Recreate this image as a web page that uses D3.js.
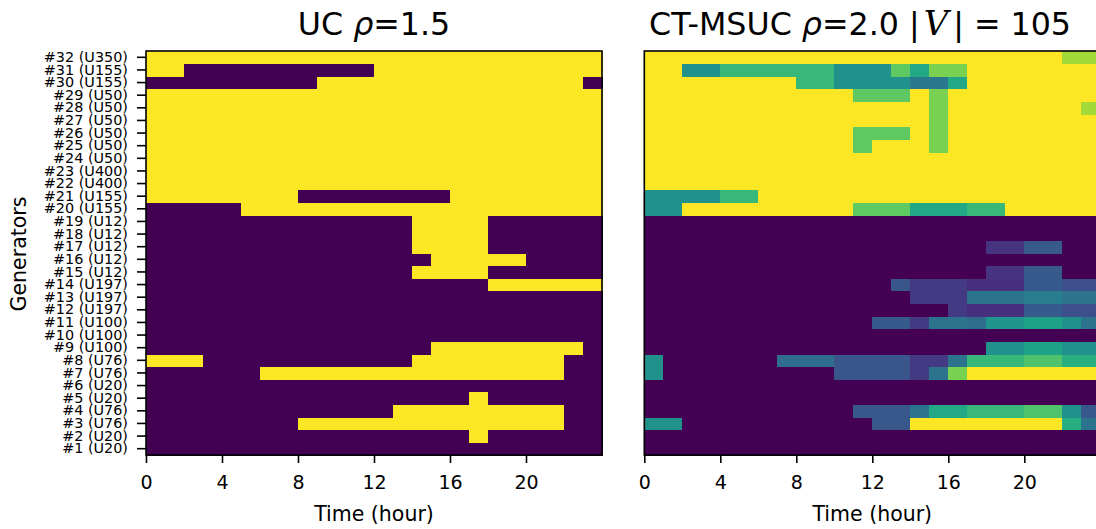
<!DOCTYPE html>
<html>
<head>
<meta charset="utf-8">
<script src="https://cdn.jsdelivr.net/npm/d3@7"></script>
<style>
  body { margin: 0; background: #fff; }
  svg { display: block; font-family: "DejaVu Sans", sans-serif; }
</style>
</head>
<body>
<svg id="chart" width="1096" height="529"></svg>
<script>
// generator labels, #1 .. #32
const genUnits = ['U20', 'U20', 'U76', 'U76', 'U20', 'U20', 'U76', 'U76', 'U100', 'U100',
  'U100', 'U197', 'U197', 'U197', 'U12', 'U12', 'U12', 'U12', 'U12', 'U155',
  'U155', 'U400', 'U400', 'U50', 'U50', 'U50', 'U50', 'U50', 'U50', 'U155',
  'U155', 'U350'];
const hourTicks = [0, 4, 8, 12, 16, 20];

// UC commitment, one string per generator (#1 first), one char per hour
const ucOn = [
  '000000000000000000000000',
  '000000000000000001000000',
  '000000001111111111111100',
  '000000000000011111111100',
  '000000000000000001000000',
  '000000000000000000000000',
  '000000111111111111111100',
  '111000000000001111111100',
  '000000000000000111111110',
  '000000000000000000000000',
  '000000000000000000000000',
  '000000000000000000000000',
  '000000000000000000000000',
  '000000000000000000111111',
  '000000000000001111000000',
  '000000000000000111110000',
  '000000000000001111000000',
  '000000000000001111000000',
  '000000000000001111000000',
  '000001111111111111111111',
  '111111110000000011111111',
  '111111111111111111111111',
  '111111111111111111111111',
  '111111111111111111111111',
  '111111111111111111111111',
  '111111111111111111111111',
  '111111111111111111111111',
  '111111111111111111111111',
  '111111111111111111111111',
  '000000000111111111111110',
  '110000000000111111111111',
  '111111111111111111111111',
];

// CT-MSUC commitment share, one array per generator (#1 first)
const ctOn = [
  [0,0,0,0,0,0,0,0,0,0,0,0,0,0,0,0,0,0,0,0,0,0,0,0],
  [0,0,0,0,0,0,0,0,0,0,0,0,0,0,0,0,0,0,0,0,0,0,0,0],
  [.5,.5,0,0,0,0,0,0,0,0,0,0,.27,.27,1,1,1,1,1,1,1,1,.63,.38],
  [0,0,0,0,0,0,0,0,0,0,0,.27,.27,.27,.38,.6,.6,.67,.67,.67,.72,.72,.5,.27],
  [0,0,0,0,0,0,0,0,0,0,0,0,0,0,0,0,0,0,0,0,0,0,0,0],
  [0,0,0,0,0,0,0,0,0,0,0,0,0,0,0,0,0,0,0,0,0,0,0,0],
  [.5,0,0,0,0,0,0,0,0,0,.26,.26,.26,.26,.17,.38,.8,1,1,1,1,1,1,1],
  [.5,0,0,0,0,0,0,.35,.35,.35,.26,.26,.26,.26,.17,.17,.38,.67,.67,.67,.72,.72,.63,.63],
  [0,0,0,0,0,0,0,0,0,0,0,0,0,0,0,0,0,0,.5,.5,.57,.57,.5,.5],
  [0,0,0,0,0,0,0,0,0,0,0,0,0,0,0,0,0,0,0,0,0,0,0,0],
  [0,0,0,0,0,0,0,0,0,0,0,0,.28,.28,.17,.38,.38,.35,.52,.52,.57,.57,.5,.38],
  [0,0,0,0,0,0,0,0,0,0,0,0,0,0,0,0,.17,.14,.14,.14,.28,.28,.24,.24],
  [0,0,0,0,0,0,0,0,0,0,0,0,0,0,.17,.17,.17,.38,.38,.38,.42,.42,.38,.38],
  [0,0,0,0,0,0,0,0,0,0,0,0,0,.26,.17,.17,.17,.14,.14,.14,.28,.28,.24,.24],
  [0,0,0,0,0,0,0,0,0,0,0,0,0,0,0,0,0,0,.15,.15,.28,.28,0,0],
  [0,0,0,0,0,0,0,0,0,0,0,0,0,0,0,0,0,0,0,0,0,0,0,0],
  [0,0,0,0,0,0,0,0,0,0,0,0,0,0,0,0,0,0,.15,.15,.28,.28,0,0],
  [0,0,0,0,0,0,0,0,0,0,0,0,0,0,0,0,0,0,0,0,0,0,0,0],
  [0,0,0,0,0,0,0,0,0,0,0,0,0,0,0,0,0,0,0,0,0,0,0,0],
  [.5,.5,1,1,1,1,1,1,1,1,1,.75,.75,.75,.6,.6,.6,.67,.67,1,1,1,1,1],
  [.5,.5,.5,.5,.67,.67,1,1,1,1,1,1,1,1,1,1,1,1,1,1,1,1,1,1],
  [1,1,1,1,1,1,1,1,1,1,1,1,1,1,1,1,1,1,1,1,1,1,1,1],
  [1,1,1,1,1,1,1,1,1,1,1,1,1,1,1,1,1,1,1,1,1,1,1,1],
  [1,1,1,1,1,1,1,1,1,1,1,1,1,1,1,1,1,1,1,1,1,1,1,1],
  [1,1,1,1,1,1,1,1,1,1,1,.75,1,1,1,.8,1,1,1,1,1,1,1,1],
  [1,1,1,1,1,1,1,1,1,1,1,.75,.75,.75,1,.8,1,1,1,1,1,1,1,1],
  [1,1,1,1,1,1,1,1,1,1,1,1,1,1,1,.8,1,1,1,1,1,1,1,1],
  [1,1,1,1,1,1,1,1,1,1,1,1,1,1,1,.8,1,1,1,1,1,1,1,.86],
  [1,1,1,1,1,1,1,1,1,1,1,.75,.75,.75,1,.8,1,1,1,1,1,1,1,1],
  [1,1,1,1,1,1,1,1,.67,.67,.5,.5,.5,.5,.4,.4,.6,1,1,1,1,1,1,1],
  [1,1,.5,.5,.67,.67,.67,.67,.67,.67,.5,.5,.5,.75,.6,.8,.8,1,1,1,1,1,1,1],
  [1,1,1,1,1,1,1,1,1,1,1,1,1,1,1,1,1,1,1,1,1,1,.86,.86],
];

const svg = d3.select('#chart');
const plotTop = 51;
const plotBottom = 455;

const genLabels = genUnits.map((u, i) => `#${i + 1} (${u})`);
const y = d3.scaleBand()
  .domain(genLabels.slice().reverse())
  .range([plotTop, plotBottom]);

const panels = [
  { left: 146, right: 602, values: ucOn.map((s) => s.split('').map(Number)), labels: true },
  { left: 644.3, right: 1100.3, values: ctOn, labels: false },
];

panels.forEach((p) => {
  const x = d3.scaleLinear().domain([0, 24]).range([p.left, p.right]);
  const g = svg.append('g');

  const cells = [];
  p.values.forEach((row, gi) => {
    row.forEach((v, h) => cells.push({ gen: genLabels[gi], h, v }));
  });

  g.selectAll('rect.cell')
    .data(cells)
    .enter()
    .append('rect')
    .attr('class', 'cell')
    .attr('x', (d) => x(d.h))
    .attr('y', (d) => y(d.gen))
    .attr('width', x(1) - x(0) + 0.6)
    .attr('height', y.bandwidth() + 0.6)
    .attr('shape-rendering', 'crispEdges')
    .attr('fill', (d) => d3.interpolateViridis(d.v));

  // frame
  g.append('rect')
    .attr('x', p.left)
    .attr('y', plotTop)
    .attr('width', p.right - p.left)
    .attr('height', plotBottom - plotTop)
    .attr('fill', 'none')
    .attr('stroke', '#000')
    .attr('stroke-width', 1.6);

  const xAxis = g.append('g')
    .attr('transform', `translate(0,${plotBottom})`)
    .call(d3.axisBottom(x).tickValues(hourTicks).tickFormat(d3.format('d'))
      .tickSize(8).tickPadding(13));
  xAxis.select('.domain').remove();
  xAxis.selectAll('line').attr('stroke-width', 1.6);
  xAxis.selectAll('text').attr('font-size', 19).attr('fill', '#000')
    .attr('font-family', '"DejaVu Sans", sans-serif');

  g.append('text')
    .attr('x', (p.left + p.right) / 2)
    .attr('y', 521)
    .attr('text-anchor', 'middle')
    .attr('font-size', 20.5)
    .text('Time (hour)');

  if (p.labels) {
    const yAxis = g.append('g')
      .attr('transform', `translate(${p.left},0)`)
      .call(d3.axisLeft(y).tickSize(9).tickPadding(9));
    yAxis.select('.domain').remove();
    yAxis.selectAll('line').attr('stroke-width', 1.6);
    yAxis.selectAll('text').attr('font-size', 14.4).attr('fill', '#000')
      .attr('font-family', '"DejaVu Sans", sans-serif');
  }
});

svg.append('text')
  .attr('transform', 'translate(26,254) rotate(-90)')
  .attr('text-anchor', 'middle')
  .attr('font-size', 20.5)
  .text('Generators');

// titles
const t1 = svg.append('text')
  .attr('x', 374).attr('y', 35)
  .attr('text-anchor', 'middle')
  .attr('font-size', 31.7);
t1.append('tspan').text('UC ');
t1.append('tspan').attr('font-style', 'italic').text('ρ');
t1.append('tspan').text('=1.5');

const t2 = svg.append('text')
  .attr('x', 860).attr('y', 35)
  .attr('text-anchor', 'middle')
  .attr('font-size', 31.7);
t2.append('tspan').text('CT-MSUC ');
t2.append('tspan').attr('font-style', 'italic').text('ρ');
t2.append('tspan').text('=2.0 |');
t2.append('tspan').attr('font-style', 'italic').attr('font-family', '"DejaVu Serif", serif')
  .attr('font-size', 34).attr('dx', 4).text('V');
t2.append('tspan').attr('dx', 5).text('|');
t2.append('tspan').attr('dx', 10).text('=');
t2.append('tspan').attr('dx', 10).text('105');
</script>
</body>
</html>
